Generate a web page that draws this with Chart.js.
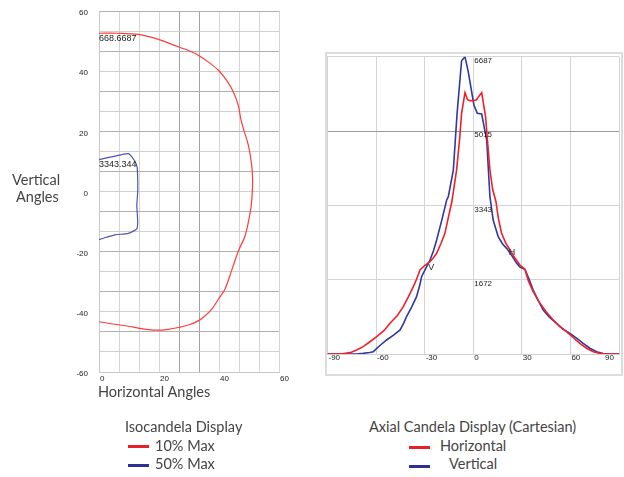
<!DOCTYPE html>
<html>
<head>
<meta charset="utf-8">
<script src="https://cdn.jsdelivr.net/npm/chart.js@4.4.1/dist/chart.umd.min.js"></script>
<style>
  html, body { margin: 0; padding: 0; background: #fff; }
  body { width: 624px; height: 477px; position: relative; overflow: hidden; font-family: Lato, "Open Sans", sans-serif; color: #444; }
  .abs { position: absolute; white-space: nowrap; }
  .txt { font-size: 14.5px; line-height: 1; }
  .sw { position: absolute; height: 3px; width: 21px; }
  #box { position: absolute; left: 325px; top: 52px; width: 294px; height: 320px; border: 2px solid #dcdcdc; }
</style>
</head>
<body>
<canvas id="iso" class="abs" width="310" height="410" style="left:0;top:0"></canvas>
<div id="box"></div>
<canvas id="axial" class="abs" width="304" height="340" style="left:320px;top:45px"></canvas>

<div class="abs txt" style="left:12px;top:173px">Vertical</div>
<div class="abs txt" style="left:16px;top:190px">Angles</div>
<div class="abs txt" style="left:98px;top:385px">Horizontal Angles</div>

<div class="abs txt" style="left:125px;top:420px">Isocandela Display</div>
<div class="sw" style="left:128px;top:445px;background:#e8202a"></div>
<div class="abs txt" style="left:155px;top:439px">10% Max</div>
<div class="sw" style="left:128px;top:464px;background:#2e3192"></div>
<div class="abs txt" style="left:155px;top:457px">50% Max</div>

<div class="abs txt" style="left:369px;top:420px">Axial Candela Display (Cartesian)</div>
<div class="sw" style="left:409px;top:446px;background:#e8202a"></div>
<div class="abs txt" style="left:440px;top:439px">Horizontal</div>
<div class="sw" style="left:409px;top:465px;background:#2e3192"></div>
<div class="abs txt" style="left:449px;top:457px">Vertical</div>

<script>
// ---------- Isocandela display data (horizontal angle, vertical angle) ----------
const iso10X = [0, 6, 13.1, 20, 26.4, 30, 33.1, 36.5, 39.8, 42.5, 44.8, 46.4, 47.3, 48.1, 49.8, 50.9, 51.2, 51.1, 50.7, 50, 48.7, 46.5, 44.2, 42, 40, 37.6, 35.5, 33.1, 30, 26.4, 23, 19.8, 16.5, 13.1, 9.8, 6.4, 3, 0];
const iso10Y = [52.6, 52.6, 52.2, 50.5, 48.1, 46.8, 45.3, 43, 40.3, 37, 33.1, 28.7, 24, 21, 15.3, 8.7, 4, -0.2, -5, -9.1, -14.7, -19.7, -26.3, -32.4, -35.5, -39.1, -41.2, -43, -44.3, -45.2, -45.8, -46.1, -45.9, -45.4, -44.8, -44.3, -43.8, -43.3];
const iso50X = [0, 5, 9.8, 11.8, 12.7, 12.9, 12.9, 12.6, 12.8, 12.9, 12.6, 9.8, 5.3, 2.5, 0];
const iso50Y = [10.6, 11.7, 12.6, 10.3, 8.1, 4, -0.2, -4.7, -8, -10.2, -12.4, -13.9, -14.4, -15.2, -16];
const isoXTicks = [0, 20, 40, 60];
const isoYTicks = [60, 40, 20, 0, -20, -40, -60];
const isoLabels = [{ text: "668.6687", x: 0, y: 52.6 }, { text: "3343.344", x: 0, y: 10.6 }];

// ---------- Axial candela display data (angle, candela) ----------
const horizAngles = [-90, -84, -80, -76, -72, -68, -64, -59.6, -55, -51.4, -47, -43.2, -40, -37, -35, -32.9, -30, -26.7, -24.5, -22.6, -20, -17.5, -15.5, -13.2, -10.3, -8.5, -7.2, -5.1, -3.5, -2, 0, 2.1, 3.5, 5.2, 7.6, 9, 10.3, 12, 14, 15.5, 17.5, 20, 22.7, 25, 28.8, 31.9, 34, 37, 41.2, 45, 49.4, 53, 57.6, 62, 65.8, 70, 74.1, 78, 82, 90];
const horizValues = [0, 0, 10, 30, 90, 165, 270, 390, 530, 690, 860, 1064, 1290, 1514, 1680, 1889, 1990, 2076, 2170, 2264, 2480, 2714, 3050, 3430, 4138, 4800, 5413, 5878, 5720, 5698, 5698, 5720, 5800, 5878, 5338, 4700, 4138, 3700, 3430, 3050, 2714, 2500, 2339, 2200, 2002, 1905, 1650, 1400, 1140, 950, 765, 630, 502, 360, 240, 130, 52, 15, 0, 0];
const vertAngles = [-90, -72, -68, -64, -61.7, -58, -53.5, -49, -45.2, -43, -41.2, -38, -35, -33, -31.9, -29, -26.7, -24.5, -22.6, -19.5, -16.4, -15.4, -12.3, -10, -7.2, -5.1, -3.1, -1, 0.4, 2.5, 5.2, 8.3, 10.3, 12.3, 15.4, 18, 20.6, 23.5, 26.8, 29, 31.9, 34.5, 37, 40, 43.2, 47, 51.5, 55, 59.7, 64, 67.9, 72, 76.2, 80, 84, 90];
const vertValues = [0, 0, 15, 35, 52, 180, 315, 430, 540, 690, 839, 1060, 1289, 1550, 1739, 1950, 2114, 2330, 2564, 3000, 3464, 3538, 4138, 5400, 6597, 6687, 6350, 5900, 5600, 5413, 5398, 4813, 3538, 3014, 2638, 2480, 2376, 2230, 2040, 1950, 1905, 1680, 1440, 1210, 990, 830, 690, 570, 465, 350, 240, 130, 52, 10, 0, 0];
const axialXTicks = [-90, -60, -30, 0, 30, 60, 90];
const axialYTicks = [6687, 5015, 3343, 1672];
const axialMarks = [{ text: "V", x: -26, y: 1934 }, { text: "H", x: 24, y: 2272 }];

const RED = '#f0202a', BLUE = '#2e3a9e';
const toPts = (xs, ys) => xs.map((x, i) => ({ x: x, y: ys[i] }));

// ---------- Isocandela chart ----------
const isoGridX = Array.from({ length: 10 }, (_, i) => i * 20 / 3);
const isoGridY = Array.from({ length: 19 }, (_, i) => -60 + i * 20 / 3);

const isoLabelPlugin = {
  id: 'isoLabels',
  afterDraw(chart) {
    const { ctx, scales: { x, y } } = chart;
    ctx.save();
    ctx.fillStyle = '#222';
    ctx.font = '8px "Liberation Sans", Arial, sans-serif';
    ctx.textBaseline = 'middle';
    ctx.textAlign = 'right';
    isoYTicks.forEach(v => ctx.fillText(String(v), x.left - 11, y.getPixelForValue(v) + 2));
    ctx.textAlign = 'left';
    isoXTicks.forEach(v => ctx.fillText(String(v), x.getPixelForValue(v) + 1, y.bottom + 7));
    ctx.font = '9px "Liberation Sans", Arial, sans-serif';
    isoLabels.forEach(l => ctx.fillText(l.text, x.getPixelForValue(l.x), y.getPixelForValue(l.y) + 5));
    ctx.restore();
  }
};

new Chart(document.getElementById('iso'), {
  type: 'scatter',
  data: {
    datasets: [
      { label: '10% Max', data: toPts(iso10X, iso10Y), showLine: true, borderColor: '#ff3b3b', borderWidth: 1.2, pointRadius: 0, tension: 0.35 },
      { label: '50% Max', data: toPts(iso50X, iso50Y), showLine: true, borderColor: '#4f55b0', borderWidth: 1.2, pointRadius: 0, tension: 0.2 }
    ]
  },
  options: {
    responsive: false, animation: false,
    layout: { padding: { left: 99, right: 31, top: 11, bottom: 38 } },
    plugins: { legend: { display: false }, tooltip: { enabled: false } },
    scales: {
      x: {
        type: 'linear', min: 0, max: 60,
        afterBuildTicks: s => { s.ticks = isoGridX.map(v => ({ value: v })); },
        ticks: { display: false },
        grid: { drawTicks: false, color: c => (c.index === 4 || c.index === 5) ? '#a2a2a2' : '#d4d4d4', lineWidth: 1 },
        border: { display: true, color: '#c8c8c8' }
      },
      y: {
        type: 'linear', min: -60, max: 60,
        afterBuildTicks: s => { s.ticks = isoGridY.map(v => ({ value: v })); },
        ticks: { display: false },
        grid: { drawTicks: false, color: c => (c.index % 2 === 0) ? '#b0b0b0' : '#d0d0d0', lineWidth: 1 },
        border: { display: true, color: '#c8c8c8' }
      }
    }
  },
  plugins: [isoLabelPlugin]
});

// ---------- Axial candela chart ----------
const axialGridY = [0, 1672, 3343, 5015, 6687];
const axialLabelPlugin = {
  id: 'axialLabels',
  afterDraw(chart) {
    const { ctx, scales: { x, y } } = chart;
    ctx.save();
    ctx.fillStyle = '#222';
    ctx.font = '8px "Liberation Sans", Arial, sans-serif';
    ctx.textBaseline = 'middle';
    axialXTicks.forEach((v, i) => {
      const last = i === axialXTicks.length - 1;
      ctx.textAlign = last ? 'right' : 'left';
      ctx.fillText(String(v), x.getPixelForValue(v) + (last ? -5 : 1), y.bottom + 4);
    });
    ctx.textAlign = 'left';
    axialYTicks.forEach(v => ctx.fillText(String(v), x.getPixelForValue(0) + 1, y.getPixelForValue(v) + 4));
    ctx.font = '9px "Liberation Sans", Arial, sans-serif';
    ctx.textAlign = 'center';
    axialMarks.forEach(m => ctx.fillText(m.text, x.getPixelForValue(m.x), y.getPixelForValue(m.y)));
    ctx.restore();
  }
};

new Chart(document.getElementById('axial'), {
  type: 'scatter',
  data: {
    datasets: [
      { label: 'Horizontal', data: toPts(horizAngles, horizValues), showLine: true, borderColor: RED, borderWidth: 1.6, pointRadius: 0, tension: 0 },
      { label: 'Vertical', data: toPts(vertAngles, vertValues), showLine: true, borderColor: BLUE, borderWidth: 1.6, pointRadius: 0, tension: 0 }
    ]
  },
  options: {
    responsive: false, animation: false,
    layout: { padding: { left: 7.5, right: 5, top: 11.7, bottom: 31 } },
    plugins: { legend: { display: false }, tooltip: { enabled: false } },
    scales: {
      x: {
        type: 'linear', min: -90, max: 90,
        afterBuildTicks: s => { s.ticks = axialXTicks.map(v => ({ value: v })); },
        ticks: { display: false },
        grid: { drawTicks: false, color: '#d4d4d4', lineWidth: 1 },
        border: { display: true, color: '#d0d0d0' }
      },
      y: {
        type: 'linear', min: 0, max: 6687,
        afterBuildTicks: s => { s.ticks = axialGridY.map(v => ({ value: v })); },
        ticks: { display: false },
        grid: { drawTicks: false, color: c => c.tick && c.tick.value === 5015 ? '#9a9a9a' : '#d4d4d4', lineWidth: 1 },
        border: { display: true, color: '#d4d4d4' }
      }
    }
  },
  plugins: [axialLabelPlugin]
});
</script>
</body>
</html>
